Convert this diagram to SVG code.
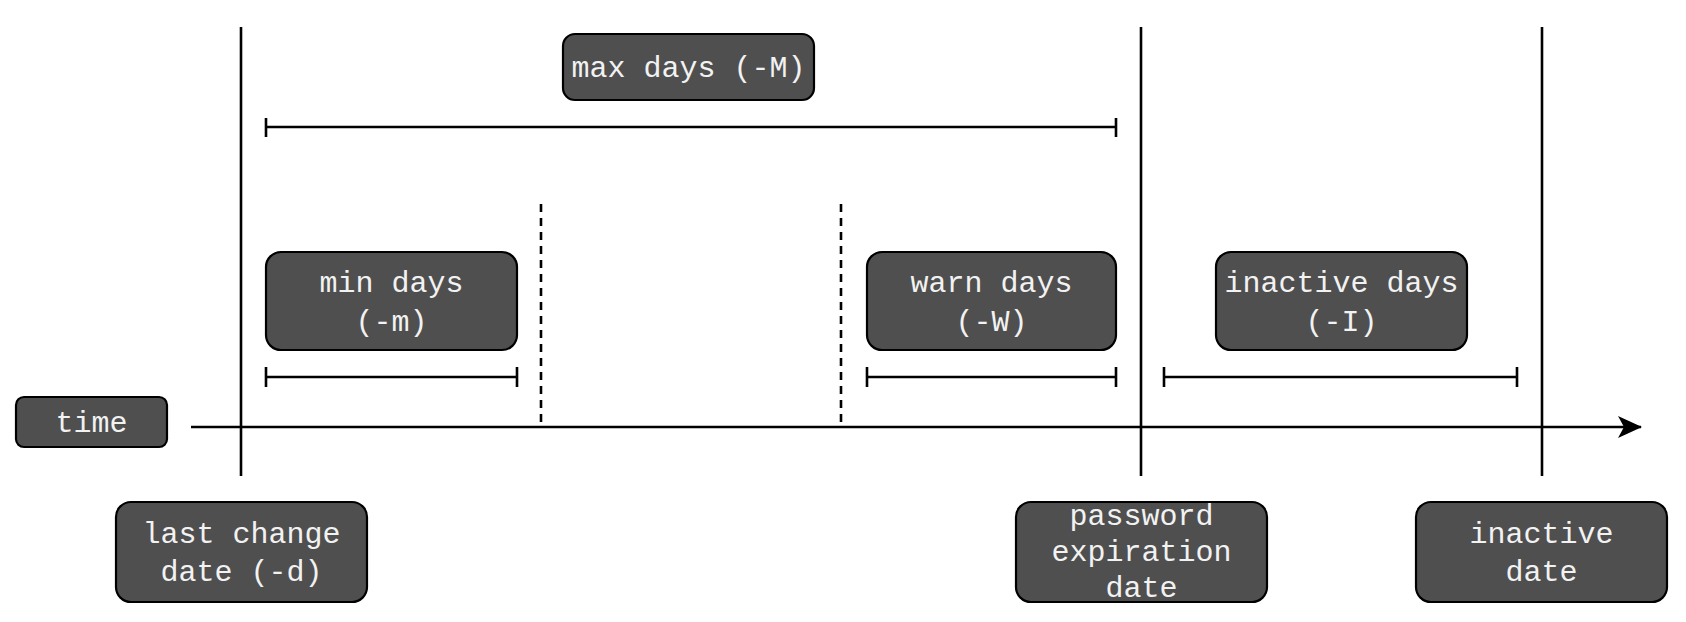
<svg xmlns="http://www.w3.org/2000/svg" width="1686" height="622" viewBox="0 0 1686 622">
<defs>
<style>
.box{fill:#4f4f4f;stroke:#000;stroke-width:2.2}
.lbl{font-family:"Liberation Mono","Courier New",monospace;font-size:30px;fill:#f2f2f2;text-anchor:middle}
.ln{stroke:#000;stroke-width:2.6;fill:none}
.dash{stroke:#000;stroke-width:2.6;fill:none;stroke-dasharray:8 6}
</style>
<marker id="arr" viewBox="0 0 24 22" refX="23" refY="11" markerWidth="24" markerHeight="22" markerUnits="userSpaceOnUse" orient="auto">
<path d="M0,0 L24,11 L0,22 L6,11 Z" fill="#000"/>
</marker>
</defs>
<rect width="1686" height="622" fill="#fff"/>
<g id="connectors">
<line class="ln" x1="241" y1="27" x2="241" y2="476"/>
<line class="ln" x1="1141" y1="27" x2="1141" y2="476"/>
<line class="ln" x1="1542" y1="27" x2="1542" y2="476"/>
<line class="dash" x1="541" y1="204" x2="541" y2="422"/>
<line class="dash" x1="841" y1="204" x2="841" y2="422"/>
<line class="ln" x1="191" y1="427" x2="1641" y2="427" marker-end="url(#arr)"/>
<path class="ln" d="M266,127 H1116 M266,118 V137 M1116,118 V137"/>
<path class="ln" d="M266,377 H517 M266,367 V387 M517,367 V387"/>
<path class="ln" d="M867,377 H1116 M867,367 V387 M1116,367 V387"/>
<path class="ln" d="M1164,377 H1517 M1164,367 V387 M1517,367 V387"/>
</g>
<g id="max-days">
<rect class="box" x="563" y="34" width="251" height="66" rx="12"/>
<text class="lbl" x="688.5" y="77">max days (-M)</text>
</g>
<g id="min-days">
<rect class="box" x="266" y="252" width="251" height="98" rx="15"/>
<text class="lbl" x="391.5" y="292">min days</text>
<text class="lbl" x="391.5" y="331">(-m)</text>
</g>
<g id="warn-days">
<rect class="box" x="867" y="252" width="249" height="98" rx="15"/>
<text class="lbl" x="991.5" y="292">warn days</text>
<text class="lbl" x="991.5" y="331">(-W)</text>
</g>
<g id="inactive-days">
<rect class="box" x="1216" y="252" width="251" height="98" rx="15"/>
<text class="lbl" x="1341.5" y="292">inactive days</text>
<text class="lbl" x="1341.5" y="331">(-I)</text>
</g>
<g id="time">
<rect class="box" x="16" y="397" width="151" height="50" rx="8"/>
<text class="lbl" x="91.5" y="432">time</text>
</g>
<g id="last-change-date">
<rect class="box" x="116" y="502" width="251" height="100" rx="15"/>
<text class="lbl" x="241.5" y="543">last change</text>
<text class="lbl" x="241.5" y="581">date (-d)</text>
</g>
<g id="password-expiration-date">
<rect class="box" x="1016" y="502" width="251" height="100" rx="15"/>
<text class="lbl" x="1141.5" y="525">password</text>
<text class="lbl" x="1141.5" y="561">expiration</text>
<text class="lbl" x="1141.5" y="597">date</text>
</g>
<g id="inactive-date">
<rect class="box" x="1416" y="502" width="251" height="100" rx="15"/>
<text class="lbl" x="1541.5" y="543">inactive</text>
<text class="lbl" x="1541.5" y="581">date</text>
</g>
</svg>
